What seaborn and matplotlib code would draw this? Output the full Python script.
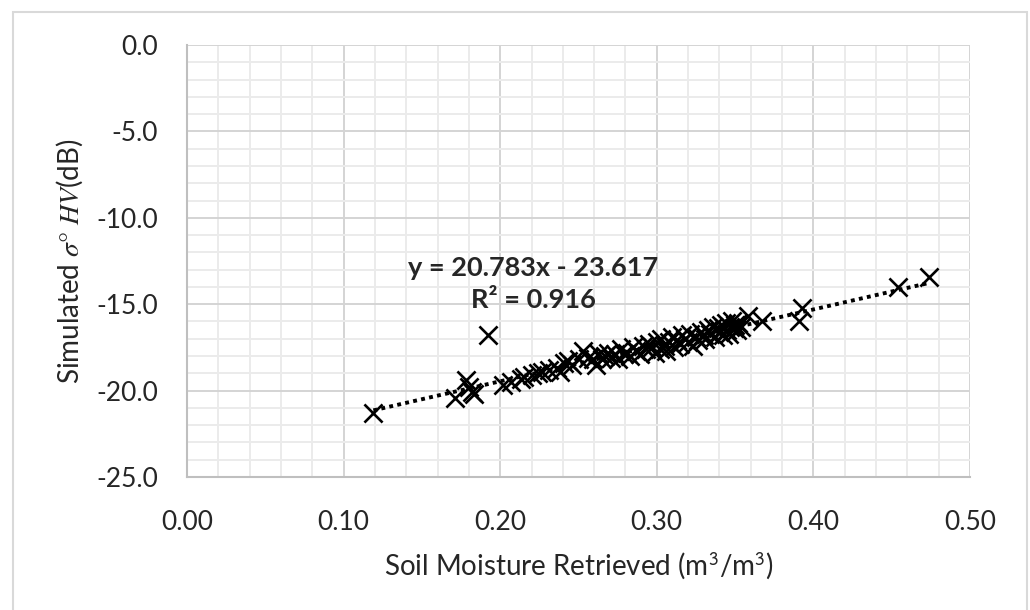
import numpy as np
import pandas as pd
import matplotlib.pyplot as plt
import matplotlib.patches as mpatches
from matplotlib.ticker import MultipleLocator
import seaborn as sns

# soil moisture retrieved (m3/m3) vs simulated sigma0 HV (dB)
soil_moisture = [
    0.119, 0.171, 0.178, 0.180, 0.182, 0.183, 0.192, 0.202, 0.207, 0.213,
    0.215, 0.220, 0.224, 0.227, 0.231, 0.236, 0.238, 0.241, 0.243, 0.246,
    0.250, 0.253, 0.256, 0.259, 0.261, 0.263, 0.265, 0.267, 0.269, 0.271,
    0.273, 0.275, 0.277, 0.279, 0.281, 0.283, 0.285, 0.287, 0.289, 0.291,
    0.293, 0.295, 0.297, 0.299, 0.300, 0.302, 0.303, 0.305, 0.306, 0.308,
    0.310, 0.311, 0.313, 0.315, 0.316, 0.318, 0.320, 0.321, 0.323, 0.325,
    0.326, 0.328, 0.330, 0.331, 0.333, 0.334, 0.336, 0.337, 0.339, 0.340,
    0.341, 0.342, 0.343, 0.344, 0.345, 0.346, 0.347, 0.348, 0.349, 0.350,
    0.351, 0.352, 0.354, 0.358, 0.367, 0.391, 0.393, 0.454, 0.474,
]
sigma_hv = [
    -21.3, -20.4, -19.4, -19.8, -20.1, -20.2, -16.8, -19.7, -19.5, -19.3,
    -19.2, -19.1, -19.0, -18.9, -18.8, -18.7, -18.9, -18.4, -18.3, -18.5,
    -18.2, -17.7, -18.1, -18.2, -18.5, -17.9, -18.2, -18.0, -17.8, -18.1,
    -17.9, -18.2, -17.6, -17.9, -17.8, -18.0, -17.5, -17.7, -17.9, -17.4,
    -17.6, -17.3, -17.5, -17.8, -17.2, -17.6, -17.0, -17.4, -17.7, -17.2,
    -16.9, -17.5, -17.1, -17.3, -16.8, -17.0, -17.2, -16.7, -17.4, -16.9,
    -17.1, -16.6, -16.8, -17.0, -16.5, -16.7, -16.3, -16.9, -16.4, -16.6,
    -16.2, -16.8, -16.4, -16.1, -16.5, -16.7, -16.3, -16.0, -16.4, -16.2,
    -16.5, -16.1, -16.3, -15.7, -16.0, -16.0, -15.2, -14.0, -13.4,
]
slope, intercept, r2 = 20.783, -23.617, 0.916

df = pd.DataFrame({"sm": soil_moisture, "hv": sigma_hv})

sns.set_style("white")
plt.rcParams["font.family"] = ["Lato", "DejaVu Sans"]
plt.rcParams["mathtext.fontset"] = "stix"

fig = plt.figure(figsize=(10.3, 6.1), dpi=100)
ax = fig.add_axes([187 / 1030, 1 - 477 / 610, (970 - 187) / 1030, (477 - 45) / 610])

# outer frame of the picture
fig.patches.append(mpatches.Rectangle((13 / 1030, -0.05), 1014 / 1030, 1.05 - 12 / 610,
                                      transform=fig.transFigure, fill=False,
                                      edgecolor="#d9d9d9", linewidth=1.5))

sns.scatterplot(data=df, x="sm", y="hv", marker="x", s=170, color="black",
                linewidth=1.9, ax=ax, zorder=3)

# linear trendline over the range of the data
xs = np.array([df["sm"].min(), df["sm"].max()])
ax.plot(xs, slope * xs + intercept, color="black", linestyle=(0, (1, 1.1)),
        linewidth=2.8, zorder=4)

ax.set_xlim(0, 0.5)
ax.set_ylim(-25, 0)
ax.xaxis.set_minor_locator(MultipleLocator(0.02))
ax.yaxis.set_minor_locator(MultipleLocator(1))
ax.set_xticks(np.arange(0, 0.51, 0.1))
ax.set_xticklabels([f"{v:.2f}" for v in np.arange(0, 0.51, 0.1)])
ax.set_yticks(np.arange(-25, 0.1, 5))
ax.set_yticklabels([f"{v:.1f}" for v in np.arange(-25, 0.1, 5)])

ax.grid(which="major", color="#d4d4d4", linewidth=1.4)
ax.grid(which="minor", color="#ebebeb", linewidth=1.4)
ax.set_axisbelow(True)

for side in ["top", "right"]:
    ax.spines[side].set_visible(False)
for side in ["left", "bottom"]:
    ax.spines[side].set_color("#bfbfbf")
    ax.spines[side].set_linewidth(1.5)

ax.tick_params(axis="y", which="major", length=8, color="#bfbfbf", width=1.5,
               labelsize=19, pad=13)
ax.tick_params(axis="x", which="major", length=0, labelsize=19, pad=24)
ax.tick_params(which="minor", length=0)

ax.set_xlabel(r"Soil Moisture Retrieved (m$^\mathsf{3}$/m$^\mathsf{3}$)", fontsize=20, labelpad=11)
ax.set_ylabel(r"Simulated $\sigma°\ HV$(dB)", fontsize=20, labelpad=8)

ax.text(0.221, -12.9, f"y = {slope}x - {abs(intercept)}", ha="center", va="center",
        fontsize=19.5, fontweight="bold")
ax.text(0.221, -14.75, f"R² = {r2}", ha="center", va="center",
        fontsize=19.5, fontweight="bold")

fig.savefig("out.png", dpi=100)
